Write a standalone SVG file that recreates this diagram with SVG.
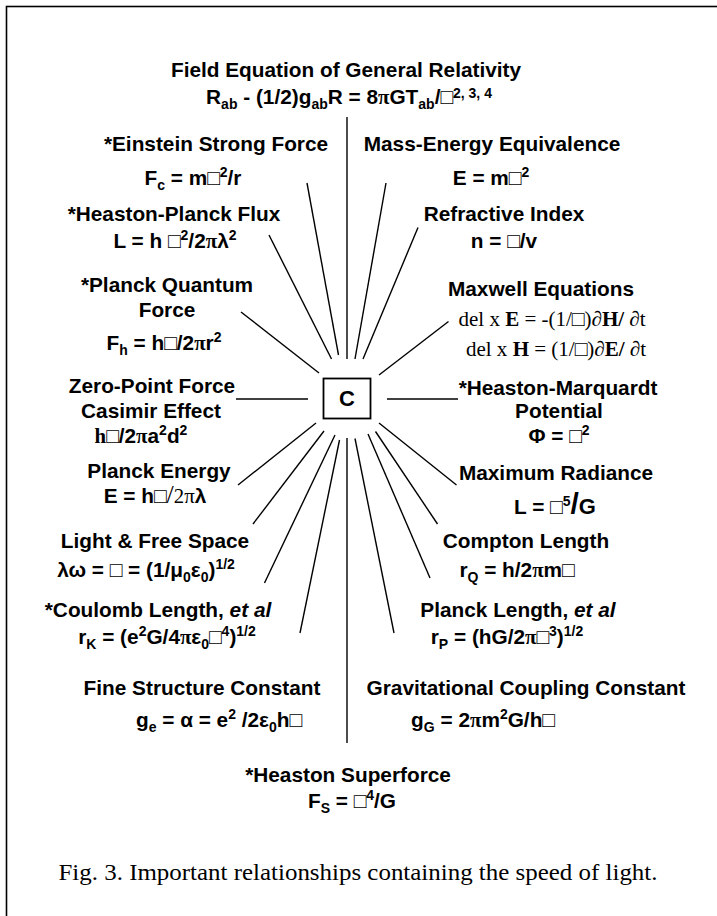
<svg xmlns="http://www.w3.org/2000/svg" width="717" height="916" viewBox="0 0 717 916">
<style>
.t{font-family:"Liberation Sans",Arial,sans-serif;font-weight:bold;font-size:20.8px;text-anchor:middle;fill:#000}
.s{font-family:"Liberation Serif","Times New Roman",serif;font-weight:normal;font-size:21px;text-anchor:middle;fill:#000}
.sm{font-size:14px}
.ser{font-family:"Liberation Serif","Times New Roman",serif}
.b{font-weight:bold}
.n{font-weight:normal}
.i{font-style:italic}
.cap{font-family:"Liberation Serif","Times New Roman",serif;font-size:23px;text-anchor:middle;fill:#000}
</style>
<rect x="6.5" y="6.5" width="730" height="930" fill="#fff" stroke="#000" stroke-width="1.6"/>
<g id="connectors" stroke="#000" stroke-width="1.4" fill="none">
<line x1="347" y1="117" x2="347" y2="359"/>
<line x1="307" y1="183" x2="338.5" y2="355"/>
<line x1="386" y1="183" x2="355" y2="359"/>
<line x1="269" y1="235" x2="331.5" y2="359"/>
<line x1="418" y1="227.5" x2="363" y2="359"/>
<line x1="241" y1="312" x2="319" y2="373"/>
<line x1="448.5" y1="321.5" x2="379" y2="375"/>
<line x1="236" y1="399" x2="308" y2="399"/>
<line x1="387" y1="399" x2="458" y2="399"/>
<line x1="316" y1="423" x2="238" y2="485"/>
<line x1="324" y1="431" x2="253" y2="524"/>
<line x1="335" y1="435" x2="264.5" y2="583"/>
<line x1="339.5" y1="440" x2="300" y2="633"/>
<line x1="347" y1="438" x2="347" y2="743"/>
<line x1="379" y1="423" x2="456.5" y2="485"/>
<line x1="375.5" y1="431.5" x2="437.5" y2="524"/>
<line x1="368" y1="434" x2="430" y2="578"/>
<line x1="355" y1="438.5" x2="394" y2="633"/>
</g>
<g id="center">
<rect x="323.5" y="378.5" width="47" height="40" fill="#fff" stroke="#000" stroke-width="1.8"/>
<text class="t" x="347" y="406" style="font-size:22px">C</text>
</g>
<g id="field-equation">
<text class="t" x="346" y="77">Field Equation of General Relativity</text>
<text class="t" x="349" y="104">R<tspan class="sm" dy="5">ab</tspan><tspan dy="-5"> - (1/2)g</tspan><tspan class="sm" dy="5">ab</tspan><tspan dy="-5">R = 8</tspan><tspan class="ser">π</tspan>GT<tspan class="sm" dy="5">ab</tspan><tspan dy="-5">/□</tspan><tspan class="sm" dy="-6">2, 3, 4</tspan></text>
</g>
<g id="einstein-strong-force">
<text class="t" x="216" y="151">*Einstein Strong Force</text>
<text class="t" x="193" y="185">F<tspan class="sm" dy="5">c</tspan><tspan dy="-5"> = m□</tspan><tspan class="sm" dy="-8">2</tspan><tspan dy="8">/r</tspan></text>
</g>
<g id="mass-energy">
<text class="t" x="492" y="151">Mass-Energy Equivalence</text>
<text class="t" x="491" y="185">E = m□<tspan class="sm" dy="-8">2</tspan></text>
</g>
<g id="heaston-planck-flux">
<text class="t" x="174" y="221">*Heaston-Planck Flux</text>
<text class="t" x="175" y="248">L = h □<tspan class="sm" dy="-8">2</tspan><tspan dy="8">/2</tspan><tspan class="ser">π</tspan>λ<tspan class="sm" dy="-8">2</tspan></text>
</g>
<g id="refractive-index">
<text class="t" x="504" y="221">Refractive Index</text>
<text class="t" x="504" y="248">n = □/v</text>
</g>
<g id="planck-quantum-force">
<text class="t" x="167" y="292">*Planck Quantum</text>
<text class="t" x="167" y="317">Force</text>
<text class="t" x="164" y="350">F<tspan class="sm" dy="5">h</tspan><tspan dy="-5"> = h□/2</tspan><tspan class="ser">π</tspan>r<tspan class="sm" dy="-8">2</tspan></text>
</g>
<g id="maxwell-equations">
<text class="t" x="541" y="296">Maxwell Equations</text>
<text class="s" x="552" y="326">del x <tspan class="b">E</tspan> = -(1/□)∂<tspan class="b">H/</tspan> ∂t</text>
<text class="s" x="556" y="356">del x <tspan class="b">H</tspan> = (1/□)∂<tspan class="b">E/</tspan> ∂t</text>
</g>
<g id="zero-point-force">
<text class="t" x="152" y="393">Zero-Point Force</text>
<text class="t" x="151" y="418">Casimir Effect</text>
<text class="t" x="141" y="443"><tspan class="ser">h□</tspan>/2<tspan class="ser">π</tspan>a<tspan class="sm" dy="-8">2</tspan><tspan dy="8">d</tspan><tspan class="sm" dy="-8">2</tspan></text>
</g>
<g id="heaston-marquardt-potential">
<text class="t" x="558" y="395">*Heaston-Marquardt</text>
<text class="t" x="559" y="418">Potential</text>
<text class="t" x="559" y="443">Φ = □<tspan class="sm" dy="-8">2</tspan></text>
</g>
<g id="planck-energy">
<text class="t" x="159" y="478">Planck Energy</text>
<text class="t" x="155" y="503">E = h□<tspan class="ser n" style="font-size:26px">/</tspan><tspan class="ser n">2π</tspan>λ</text>
</g>
<g id="maximum-radiance">
<text class="t" x="556" y="480">Maximum Radiance</text>
<text class="t" x="555" y="514">L = □<tspan class="sm" dy="-8">5</tspan><tspan dy="8" style="font-size:30px">/</tspan><tspan style="font-size:22px">G</tspan></text>
</g>
<g id="light-free-space">
<text class="t" x="155" y="548">Light &amp; Free Space</text>
<text class="t" x="146" y="577">λω = □ = (1/μ<tspan class="sm" dy="5">0</tspan><tspan dy="-5">ε</tspan><tspan class="sm" dy="5">0</tspan><tspan dy="-5">)</tspan><tspan class="sm" dy="-8">1/2</tspan></text>
</g>
<g id="compton-length">
<text class="t" x="526" y="548">Compton Length</text>
<text class="t" x="517" y="577">r<tspan class="sm" dy="5">Q</tspan><tspan dy="-5"> = h/2</tspan><tspan class="ser">π</tspan>m□</text>
</g>
<g id="coulomb-length">
<text class="t" x="158" y="617">*Coulomb Length, <tspan class="i">et al</tspan></text>
<text class="t" x="167" y="644">r<tspan class="sm" dy="5">K</tspan><tspan dy="-5"> = (e</tspan><tspan class="sm" dy="-8">2</tspan><tspan dy="8">G/4</tspan><tspan class="ser">π</tspan>ε<tspan class="sm" dy="5">0</tspan><tspan dy="-5">□</tspan><tspan class="sm" dy="-8">4</tspan><tspan dy="8">)</tspan><tspan class="sm" dy="-8">1/2</tspan></text>
</g>
<g id="planck-length">
<text class="t" x="518" y="617">Planck Length, <tspan class="i">et al</tspan></text>
<text class="t" x="507" y="644">r<tspan class="sm" dy="5">P</tspan><tspan dy="-5"> = (hG/2</tspan><tspan class="ser">π</tspan>□<tspan class="sm" dy="-8">3</tspan><tspan dy="8">)</tspan><tspan class="sm" dy="-8">1/2</tspan></text>
</g>
<g id="fine-structure-constant">
<text class="t" x="202" y="695">Fine Structure Constant</text>
<text class="t" x="219" y="727">g<tspan class="sm" dy="5">e</tspan><tspan dy="-5"> = α = e</tspan><tspan class="sm" dy="-8">2</tspan><tspan dy="8"> /2ε</tspan><tspan class="sm" dy="5">0</tspan><tspan dy="-5">h□</tspan></text>
</g>
<g id="gravitational-coupling-constant">
<text class="t" x="526" y="695">Gravitational Coupling Constant</text>
<text class="t" x="483" y="727">g<tspan class="sm" dy="5">G</tspan><tspan dy="-5"> = 2</tspan><tspan class="ser">π</tspan>m<tspan class="sm" dy="-8">2</tspan><tspan dy="8">G/h□</tspan></text>
</g>
<g id="heaston-superforce">
<text class="t" x="348" y="782">*Heaston Superforce</text>
<text class="t" x="352" y="808">F<tspan class="sm" dy="5">S</tspan><tspan dy="-5"> = □</tspan><tspan class="sm" dy="-8">4</tspan><tspan dy="8">/G</tspan></text>
</g>
<text class="cap" x="358" y="880" textLength="599" lengthAdjust="spacingAndGlyphs">Fig. 3.  Important relationships containing the speed of light.</text>
</svg>
